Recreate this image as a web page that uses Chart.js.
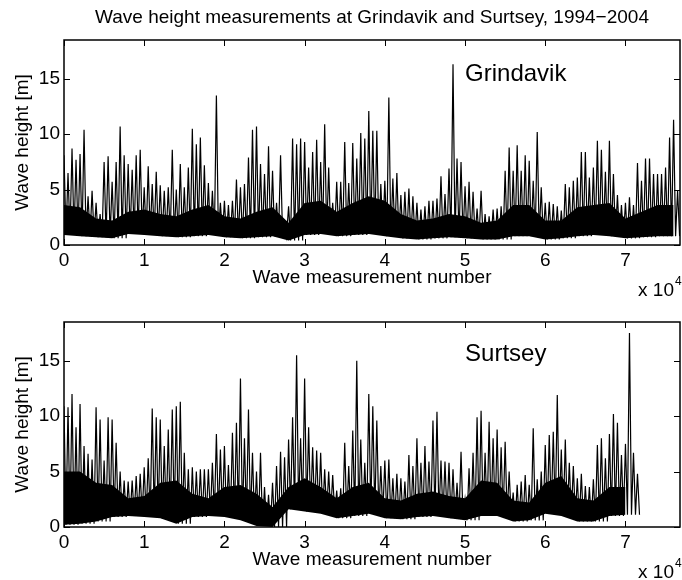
<!DOCTYPE html>
<html>
<head>
<meta charset="utf-8">
<script src="https://cdn.jsdelivr.net/npm/chart.js@4.4.1/dist/chart.umd.min.js"></script>
<style>
    html, body { margin: 0; padding: 0; background: #fff; }
    #wrap { position: relative; width: 682px; height: 580px; overflow: hidden; }
    canvas { position: absolute; left: 0; }
    #topChart { top: 0; }
    #bottomChart { top: 282px; }
</style>
</head>
<body>
<div id="wrap">
    <canvas id="topChart" width="682" height="298"></canvas>
    <canvas id="bottomChart" width="682" height="298"></canvas>
</div>
<script>
// Trục chung
const X_MAX = 76800;
const Y_MAX = 18.5;
const xTickValues = [0, 10000, 20000, 30000, 40000, 50000, 60000, 70000];
const xTickLabels = ['0', '1', '2', '3', '4', '5', '6', '7'];
const yTickValues = [0, 5, 10, 15];

// Đỉnh sóng đọc theo từng cột 500 phép đo, dải dày đặc theo cột 2000 phép đo
const PEAK_STEP = 500;
const BAND_STEP = 2000;

// Grindavik
const grindavikPeaks = [
    8.1, 6.5, 8.7, 7.7, 8.2, 10.4, 4.4, 4.9, 3.8, 2.8,
    7.5, 8.0, 5.7, 7.5, 10.7, 8.1, 7.3, 6.8, 8.1, 8.6,
    5.2, 7.1, 5.5, 6.6, 5.4, 4.9, 5.2, 8.6, 5.0, 7.3,
    5.2, 7.0, 10.5, 9.1, 9.7, 7.2, 5.6, 4.9, 13.5, 3.8,
    4.0, 3.6, 4.0, 5.9, 5.2, 5.5, 7.9, 10.4, 10.7, 7.3,
    6.4, 8.9, 6.7, 3.8, 8.1, 2.0, 3.5, 9.6, 9.1, 9.6,
    9.3, 7.0, 8.4, 9.5, 7.5, 10.9, 7.0, 3.8, 5.7, 5.7,
    9.3, 5.6, 9.2, 7.8, 10.1, 9.6, 12.1, 10.3, 10.3, 5.5,
    5.8, 13.3, 6.0, 6.5, 4.5, 4.8, 5.1, 4.4, 3.8, 3.2,
    3.5, 4.0, 4.0, 4.2, 6.2, 4.6, 6.9, 16.3, 7.8, 7.5,
    5.3, 5.7, 4.8, 3.3, 4.9, 2.8, 2.6, 3.2, 3.3, 3.5,
    6.7, 8.8, 6.7, 9.0, 6.7, 8.1, 7.6, 5.8, 10.2, 5.2,
    3.8, 3.9, 3.7, 3.5, 3.1, 5.5, 5.2, 5.8, 6.1, 8.4,
    8.4, 6.1, 7.0, 9.4, 8.6, 6.6, 9.4, 6.4, 4.5, 3.6,
    3.8, 4.3, 3.6, 7.4, 5.8, 7.8, 7.8, 6.4, 6.4, 6.4,
    7.0, 9.7, 11.3, 4.9
];
const grindavikBandTop = [
    3.6, 3.4, 2.4, 2.2, 3.0, 3.2, 2.8, 2.6, 3.2, 3.6,
    2.6, 2.4, 3.0, 3.4, 2.0, 3.8, 4.0, 3.0, 3.8, 4.4,
    4.0, 2.8, 2.2, 2.4, 2.8, 2.6, 2.0, 2.2, 3.6, 3.6,
    2.2, 2.2, 3.4, 3.6, 3.8, 2.4, 3.0, 3.6, 3.6
];
const grindavikBandLow = [
    0.9, 0.8, 0.7, 0.6, 1.0, 0.9, 0.8, 0.7, 0.8, 0.9,
    0.7, 0.6, 0.7, 0.8, 0.4, 0.9, 1.0, 0.8, 0.9, 1.0,
    0.8, 0.6, 0.5, 0.6, 0.7, 0.6, 0.5, 0.5, 0.8, 0.8,
    0.5, 0.6, 0.8, 0.9, 0.8, 0.6, 0.7, 0.8, 0.8
];

// Surtsey
const surtseyPeaks = [
    10.9, 10.8, 12.0, 9.0, 11.1, 7.3, 6.6, 6.1, 10.8, 9.7,
    6.0, 9.9, 9.7, 7.6, 5.0, 4.2, 4.1, 4.2, 4.6, 4.8,
    5.4, 6.2, 10.7, 9.9, 9.7, 7.3, 8.8, 10.6, 10.9, 11.3,
    6.7, 5.2, 5.4, 5.0, 5.2, 5.2, 5.2, 5.8, 8.4, 7.0,
    7.3, 5.6, 8.5, 9.4, 13.4, 8.0, 10.6, 6.7, 5.0, 6.7,
    3.6, 2.9, 4.0, 5.5, 6.8, 6.3, 7.9, 9.9, 15.5, 8.0,
    13.4, 9.0, 7.2, 6.9, 6.7, 5.2, 5.0, 4.7, 3.3, 3.5,
    7.6, 5.5, 8.7, 15.0, 7.9, 5.8, 12.0, 10.9, 9.6, 5.5,
    6.0, 6.1, 4.4, 4.8, 4.4, 4.1, 6.5, 5.5, 8.0, 5.8,
    7.3, 5.9, 9.6, 10.4, 6.0, 5.9, 5.8, 5.2, 4.0, 6.8,
    2.5, 5.3, 6.7, 9.9, 10.5, 6.7, 9.5, 8.0, 8.8, 7.2,
    7.7, 5.0, 3.1, 3.8, 4.1, 4.7, 3.8, 8.9, 4.3, 5.0,
    7.4, 8.3, 8.6, 11.9, 7.0, 7.9, 5.8, 5.5, 4.4, 4.8,
    3.7, 3.6, 4.3, 7.4, 8.0, 6.2, 8.4, 10.2, 9.4, 6.5,
    7.5, 17.5, 6.7, 4.8
];
const surtseyBandTop = [
    5.0, 5.0, 4.0, 3.8, 2.6, 2.8, 4.0, 4.2, 3.0, 2.6,
    3.6, 3.8, 3.0, 1.8, 3.6, 4.4, 3.6, 2.6, 3.6, 4.0,
    2.6, 2.4, 3.0, 3.2, 2.8, 2.6, 4.2, 4.0, 2.4, 2.2,
    4.0, 4.6, 2.6, 2.4, 3.6, 3.6
];
const surtseyBandLow = [
    0.2, 0.3, 0.5, 0.9, 1.0, 0.9, 0.8, 0.3, 0.9, 1.0,
    0.9, 0.6, 0.1, 0.0, 1.6, 1.4, 1.2, 0.8, 1.0, 1.2,
    0.8, 0.7, 0.9, 1.0, 0.8, 0.6, 1.0, 1.0, 0.5, 0.6,
    1.2, 1.0, 0.5, 0.5, 1.0, 1.1
];

const FONT = '"Liberation Sans", Arial, Helvetica, sans-serif';

// Đường răng cưa: đỉnh của cột rồi xuống mức thấp của dải
function buildZigzag(peaks, lows) {
    const points = [];
    peaks.forEach((peak, i) => {
        const x = i * PEAK_STEP;
        const j = Math.min(Math.floor(x / BAND_STEP), lows.length - 1);
        points.push({ x: x, y: peak });
        points.push({ x: x + PEAK_STEP / 2, y: lows[j] });
    });
    return points;
}

function buildBand(values) {
    return values.map((v, j) => ({ x: j * BAND_STEP, y: v }));
}

// Khung kiểu MATLAB: viền hộp, vạch chia hướng vào trong, chữ chú thích
const framePlugin = {
    id: 'matlabFrame',
    afterDraw(chart, args, opts) {
        const { ctx, chartArea: a, scales } = chart;
        const tl = 6;
        ctx.save();
        ctx.strokeStyle = '#000';
        ctx.lineWidth = 1;
        ctx.beginPath();
        xTickValues.forEach(v => {
            const px = Math.round(scales.x.getPixelForValue(v)) + 0.5;
            ctx.moveTo(px, a.bottom);
            ctx.lineTo(px, a.bottom - tl);
            ctx.moveTo(px, a.top);
            ctx.lineTo(px, a.top + tl);
        });
        yTickValues.forEach(v => {
            const py = Math.round(scales.y.getPixelForValue(v)) + 0.5;
            ctx.moveTo(a.left, py);
            ctx.lineTo(a.left + tl, py);
            ctx.moveTo(a.right, py);
            ctx.lineTo(a.right - tl, py);
        });
        ctx.stroke();
        ctx.lineWidth = 1.5;
        ctx.strokeRect(a.left, a.top, a.right - a.left, a.bottom - a.top);

        ctx.fillStyle = '#000';
        ctx.textBaseline = 'alphabetic';

        // Tên trạm
        ctx.font = '24px ' + FONT;
        ctx.textAlign = 'left';
        ctx.fillText(opts.label, scales.x.getPixelForValue(opts.labelX), scales.y.getPixelForValue(opts.labelY));

        // Hệ số nhân trục x
        ctx.font = '19px ' + FONT;
        ctx.textAlign = 'right';
        ctx.fillText('x 10', a.right - 6, a.bottom + 51);
        ctx.font = '12px ' + FONT;
        ctx.textAlign = 'left';
        ctx.fillText('4', a.right - 5, a.bottom + 40);

        // Tiêu đề chung
        if (opts.title) {
            ctx.font = '19px ' + FONT;
            ctx.textAlign = 'center';
            ctx.fillText(opts.title, (a.left + a.right) / 2, a.top - 17);
        }
        ctx.restore();
    }
};

function makeChart(canvasId, peaks, bandTop, bandLow, label, labelY, title) {
    const ctx = document.getElementById(canvasId).getContext('2d');
    return new Chart(ctx, {
        type: 'line',
        data: {
            datasets: [
                {
                    label: label,
                    data: buildZigzag(peaks, bandLow),
                    borderColor: '#000',
                    borderWidth: 1.2,
                    pointRadius: 0,
                    tension: 0,
                    fill: false
                },
                {
                    label: 'band',
                    data: buildBand(bandTop),
                    borderColor: 'rgba(0,0,0,0)',
                    borderWidth: 0,
                    backgroundColor: '#000',
                    pointRadius: 0,
                    tension: 0,
                    fill: '+1'
                },
                {
                    label: 'low',
                    data: buildBand(bandLow),
                    borderColor: 'rgba(0,0,0,0)',
                    borderWidth: 0,
                    pointRadius: 0,
                    tension: 0,
                    fill: false
                }
            ]
        },
        options: {
            responsive: false,
            devicePixelRatio: 1,
            animation: false,
            layout: { padding: { top: 40, right: 2, left: 0, bottom: 0 } },
            scales: {
                x: {
                    type: 'linear',
                    min: 0,
                    max: X_MAX,
                    afterFit: s => { s.height = 53; },
                    afterBuildTicks: s => { s.ticks = xTickValues.map(v => ({ value: v })); },
                    ticks: {
                        callback: (value, index) => xTickLabels[index],
                        color: '#000',
                        font: { family: FONT, size: 19 },
                        padding: 4,
                        maxRotation: 0,
                        autoSkip: false
                    },
                    grid: { display: false, drawTicks: false },
                    border: { display: false },
                    title: {
                        display: true,
                        text: 'Wave measurement number',
                        color: '#000',
                        font: { family: FONT, size: 19 },
                        padding: { top: 0, bottom: 9 }
                    }
                },
                y: {
                    type: 'linear',
                    min: 0,
                    max: Y_MAX,
                    afterFit: s => { s.width = 64; },
                    afterBuildTicks: s => { s.ticks = yTickValues.map(v => ({ value: v })); },
                    ticks: {
                        callback: value => String(value),
                        color: '#000',
                        font: { family: FONT, size: 19 },
                        padding: 4
                    },
                    grid: { display: false, drawTicks: false },
                    border: { display: false },
                    title: {
                        display: true,
                        text: 'Wave height [m]',
                        color: '#000',
                        font: { family: FONT, size: 19 },
                        padding: { top: 11.6, bottom: 0 }
                    }
                }
            },
            plugins: {
                legend: { display: false },
                tooltip: { enabled: false },
                matlabFrame: { label: label, labelX: 50000, labelY: labelY, title: title }
            }
        },
        plugins: [framePlugin]
    });
}

makeChart('topChart', grindavikPeaks, grindavikBandTop, grindavikBandLow, 'Grindavik', 14.8,
    'Wave height measurements at Grindavik and Surtsey, 1994\u22122004');
makeChart('bottomChart', surtseyPeaks, surtseyBandTop, surtseyBandLow, 'Surtsey', 15.0, null);
</script>
</body>
</html>
